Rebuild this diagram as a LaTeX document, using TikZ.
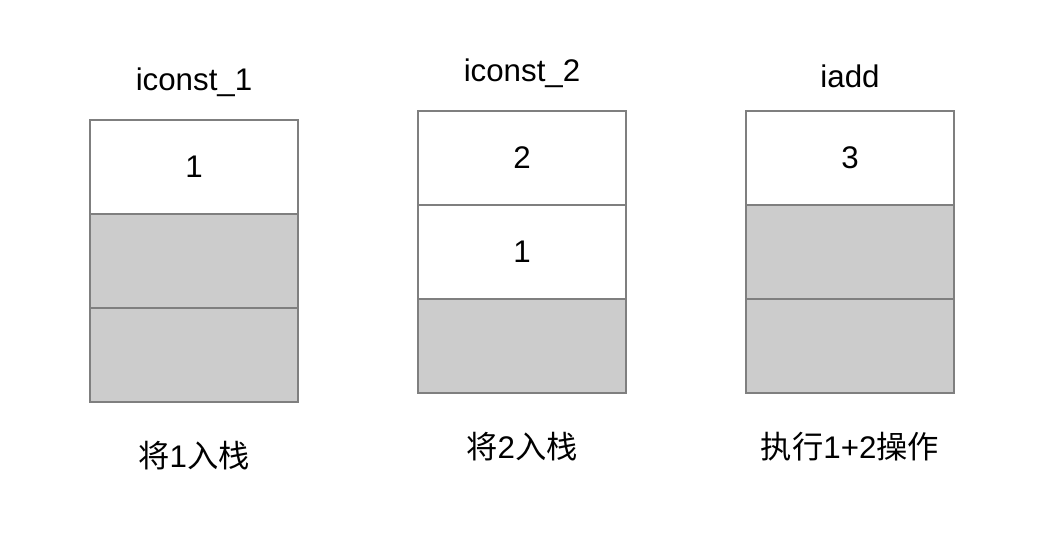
\documentclass[tikz,border=0pt]{standalone}
\usepackage{fontspec}
\setmainfont{Liberation Sans}
\newfontfamily\cjk{Noto Sans CJK SC}
\usetikzlibrary{positioning}
\definecolor{cellline}{HTML}{7F7F7F}
\definecolor{cellgray}{HTML}{CCCCCC}
\begin{document}
\begin{tikzpicture}[x=0.02cm,y=-0.02cm,font=\fontsize{17.8}{21}\selectfont]
	\useasboundingbox (0,0) rectangle (1060,548);
	\begin{scope}[every node/.style={draw=cellline,line width=0.8pt,minimum width=4.16cm,minimum height=1.88cm,inner sep=0pt,outer sep=0pt}]
		% iconst_1
		\node (s1a) at (194,167) {1};
		\node [fill=cellgray,below=0pt of s1a] (s1b) {};
		\node [fill=cellgray,below=0pt of s1b] (s1c) {};
		% iconst_2
		\node (s2a) at (522,158) {2};
		\node [below=0pt of s2a] (s2b) {1};
		\node [fill=cellgray,below=0pt of s2b] (s2c) {};
		% iadd
		\node (s3a) at (850,158) {3};
		\node [fill=cellgray,below=0pt of s3a] (s3b) {};
		\node [fill=cellgray,below=0pt of s3b] (s3c) {};
	\end{scope}
	
	\begin{scope}[every node/.style={inner sep=0pt}]
		\node [above=0.46cm of s1a.north] (t1) {iconst\_1};
		\node [above=0.46cm of s2a.north] (t2) {iconst\_2};
		\node [above=0.46cm of s3a.north] (t3) {iadd};
		\node [below=0.78cm of s1c.south] (b1) {{\cjk 将}1{\cjk 入栈}};
		\node [below=0.78cm of s2c.south] (b2) {{\cjk 将}2{\cjk 入栈}};
		\node [below=0.78cm of s3c.south] (b3) {{\cjk 执行}1+2{\cjk 操作}};
	\end{scope}
\end{tikzpicture}
\end{document}
